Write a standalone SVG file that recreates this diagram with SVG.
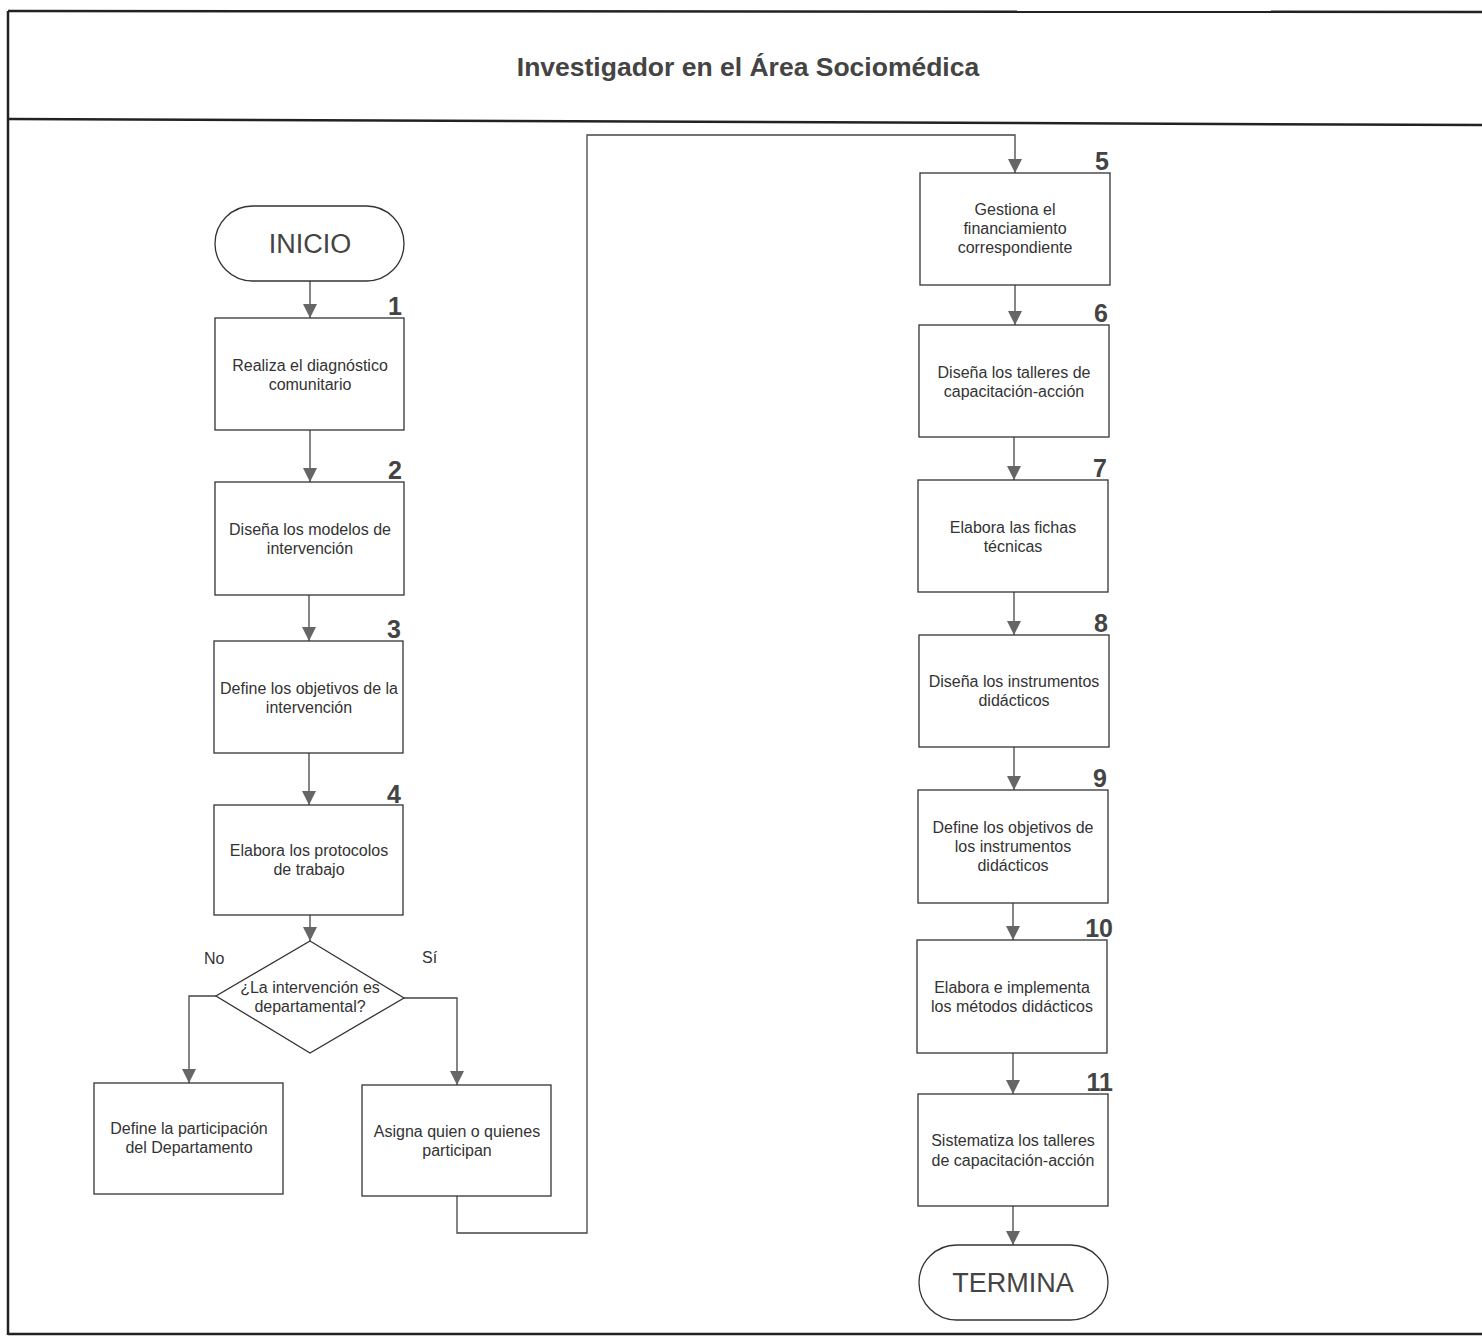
<svg xmlns="http://www.w3.org/2000/svg" width="1482" height="1343" viewBox="0 0 1482 1343">
<style>
.frame{stroke:#222;stroke-width:2.5;fill:none}
.box{fill:#fff;stroke:#333;stroke-width:1.3}
.t{font-family:"Liberation Sans",Arial,sans-serif;font-size:16px;fill:#333;text-anchor:middle}
.term{font-family:"Liberation Sans",Arial,sans-serif;font-size:27px;fill:#444;text-anchor:middle}
.num{font-family:"Liberation Sans",Arial,sans-serif;font-size:25px;font-weight:bold;fill:#444;text-anchor:end}
.lbl{font-family:"Liberation Sans",Arial,sans-serif;font-size:16px;fill:#333}
.title{font-family:"Liberation Sans",Arial,sans-serif;font-size:26.5px;font-weight:bold;fill:#444;text-anchor:middle}
.c{stroke:#444;stroke-width:1.3;fill:none;marker-end:url(#ah)}
</style>
<defs>
<marker id="ah" viewBox="0 0 14 14" refX="14" refY="7" markerWidth="14" markerHeight="14" markerUnits="userSpaceOnUse" orient="auto">
<path d="M0,0 L14,7 L0,14 Z" fill="#666"/>
</marker>
</defs>
<rect width="1482" height="1343" fill="#fff"/>
<g id="frame">
<line class="frame" x1="8" y1="11" x2="1482" y2="12"/>
<line class="frame" x1="8" y1="11" x2="8" y2="1335"/>
<line class="frame" x1="8" y1="119" x2="1482" y2="125"/>
<line class="frame" x1="8" y1="1334" x2="1482" y2="1334"/>
<text class="title" x="748" y="76">Investigador en el Área Sociomédica</text>
</g>
<g id="connectors">
<path class="c" d="M310,281 V318"/>
<path class="c" d="M310,430 V482"/>
<path class="c" d="M309,595 V641"/>
<path class="c" d="M309,753 V805"/>
<path class="c" d="M310,915 V941"/>
<path class="c" d="M216,996 H189 V1083"/>
<path class="c" d="M404,998 H457 V1085"/>
<path class="c" d="M457,1196 V1233 H587 V135 H1015 V173"/>
<path class="c" d="M1015,285 V325"/>
<path class="c" d="M1014,437 V480"/>
<path class="c" d="M1014,592 V635"/>
<path class="c" d="M1014,747 V790"/>
<path class="c" d="M1013,903 V940"/>
<path class="c" d="M1013,1053 V1094"/>
<path class="c" d="M1013,1206 V1245"/>
<text class="lbl" x="204" y="964">No</text>
<text class="lbl" x="422" y="963">Sí</text>
</g>
<g id="inicio">
<rect class="box" x="215" y="206" width="189" height="75" rx="37.5"/>
<text class="term" x="310" y="253">INICIO</text>
</g>
<g id="n1">
<rect class="box" x="215" y="318" width="189" height="112"/>
<text class="num" x="402" y="315">1</text>
<text class="t" x="310" y="371">Realiza el diagnóstico</text>
<text class="t" x="310" y="390">comunitario</text>
</g>
<g id="n2">
<rect class="box" x="215" y="482" width="189" height="113"/>
<text class="num" x="402" y="479">2</text>
<text class="t" x="310" y="535">Diseña los modelos de</text>
<text class="t" x="310" y="554">intervención</text>
</g>
<g id="n3">
<rect class="box" x="214" y="641" width="189" height="112"/>
<text class="num" x="401" y="638">3</text>
<text class="t" x="309" y="694">Define los objetivos de la</text>
<text class="t" x="309" y="713">intervención</text>
</g>
<g id="n4">
<rect class="box" x="214" y="805" width="189" height="110"/>
<text class="num" x="401" y="803">4</text>
<text class="t" x="309" y="856">Elabora los protocolos</text>
<text class="t" x="309" y="875">de trabajo</text>
</g>
<g id="decision">
<polygon class="box" points="310,941 404,998 310,1053 216,996"/>
<text class="t" x="310" y="993">¿La intervención es</text>
<text class="t" x="310" y="1012">departamental?</text>
</g>
<g id="no">
<rect class="box" x="94" y="1083" width="189" height="111"/>
<text class="t" x="189" y="1134">Define la participación</text>
<text class="t" x="189" y="1153">del Departamento</text>
</g>
<g id="si">
<rect class="box" x="362" y="1085" width="189" height="111"/>
<text class="t" x="457" y="1137">Asigna quien o quienes</text>
<text class="t" x="457" y="1156">participan</text>
</g>
<g id="n5">
<rect class="box" x="920" y="173" width="190" height="112"/>
<text class="num" x="1109" y="170">5</text>
<text class="t" x="1015" y="215">Gestiona el</text>
<text class="t" x="1015" y="234">financiamiento</text>
<text class="t" x="1015" y="253">correspondiente</text>
</g>
<g id="n6">
<rect class="box" x="919" y="325" width="190" height="112"/>
<text class="num" x="1108" y="322">6</text>
<text class="t" x="1014" y="378">Diseña los talleres de</text>
<text class="t" x="1014" y="397">capacitación-acción</text>
</g>
<g id="n7">
<rect class="box" x="918" y="480" width="190" height="112"/>
<text class="num" x="1107" y="477">7</text>
<text class="t" x="1013" y="533">Elabora las fichas</text>
<text class="t" x="1013" y="552">técnicas</text>
</g>
<g id="n8">
<rect class="box" x="919" y="635" width="190" height="112"/>
<text class="num" x="1108" y="632">8</text>
<text class="t" x="1014" y="687">Diseña los instrumentos</text>
<text class="t" x="1014" y="706">didácticos</text>
</g>
<g id="n9">
<rect class="box" x="918" y="790" width="190" height="113"/>
<text class="num" x="1107" y="787">9</text>
<text class="t" x="1013" y="833">Define los objetivos de</text>
<text class="t" x="1013" y="852">los instrumentos</text>
<text class="t" x="1013" y="871">didácticos</text>
</g>
<g id="n10">
<rect class="box" x="917" y="940" width="190" height="113"/>
<text class="num" x="1113" y="937">10</text>
<text class="t" x="1012" y="993">Elabora e implementa</text>
<text class="t" x="1012" y="1012">los métodos didácticos</text>
</g>
<g id="n11">
<rect class="box" x="918" y="1094" width="190" height="112"/>
<text class="num" x="1113" y="1091">11</text>
<text class="t" x="1013" y="1146">Sistematiza los talleres</text>
<text class="t" x="1013" y="1166">de capacitación-acción</text>
</g>
<g id="termina">
<rect class="box" x="919" y="1245" width="189" height="75" rx="37.5"/>
<text class="term" x="1013" y="1292">TERMINA</text>
</g>
</svg>
